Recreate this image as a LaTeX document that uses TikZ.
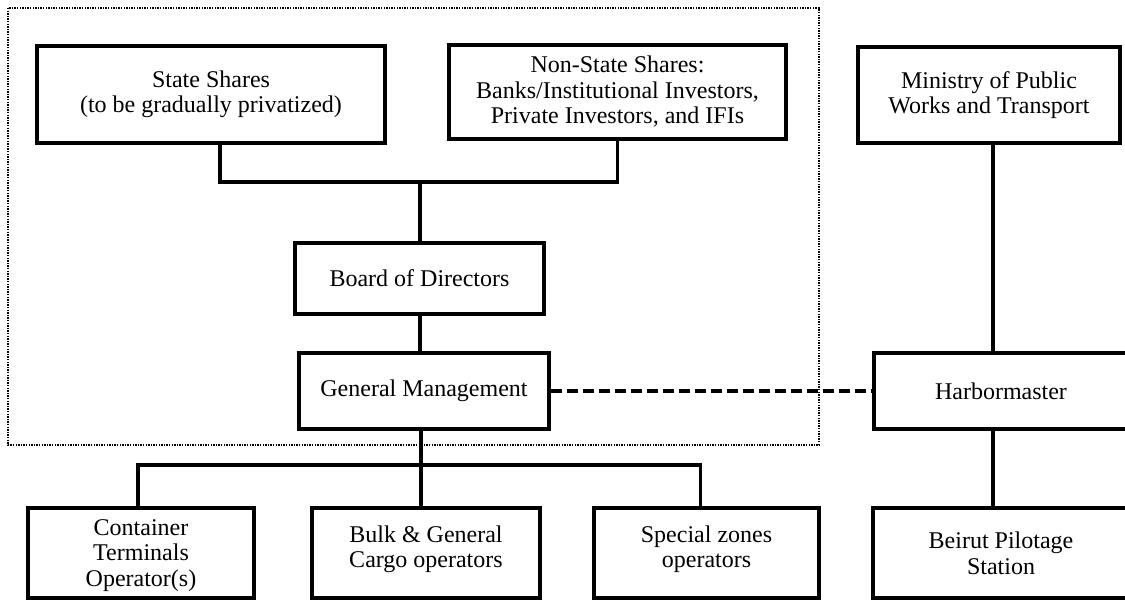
\documentclass[tikz,border=0pt]{standalone}
\usepackage{fontspec}
\setmainfont{Liberation Serif}
\usetikzlibrary{positioning,calc}
\tikzset{box/.style={
            draw,
            line width=3.3pt,
            fill=white,
            inner sep=0pt,
            align=center,
            font=\fontsize{24}{25.5}\selectfont
        },
        topbox/.style={
            box,
            text depth=13pt
        },
        link/.style={
            line width=3.3pt
        },
        weaklink/.style={
            line width=3.3pt,
            dash pattern=on 11pt off 5pt
        },
        frame/.style={
            line width=1.4pt,
            dash pattern=on 1.4pt off 1.2pt
        }
    }

\begin{document}
\begin{tikzpicture}[x=1pt,y=-1pt]
        \clip (0,0) rectangle (1125,600);

        % the port company
        \draw[frame] (8,8) rectangle (819,445);

        \node[box, minimum width=348, minimum height=97] at (211,94.5) (state)
            {State Shares\\(to be gradually privatized)};
        \node[box, minimum width=337, minimum height=94] at (617.5,92) (nonstate)
            {Non-State Shares:\\Banks/Institutional Investors,\\Private Investors, and IFIs};
        \node[box, minimum width=262, minimum height=96] at (989,95) (ministry)
            {Ministry of Public\\Works and Transport};

        \node[box, minimum width=249, minimum height=71] at (419.5,278.5) (board) {Board of Directors};
        \node[box, minimum width=250, minimum height=76] at (424,391) (genmgmt) {General Management};
        \node[box, minimum width=254, minimum height=76] at (1001,391) (harbor) {Harbormaster};

        \node[box, text depth=-20pt, minimum width=226, minimum height=90] at (141,553) (container)
            {Container\\Terminals\\Operator(s)};
        \node[topbox, minimum width=228, minimum height=90] at (426,553) (bulk)
            {Bulk \& General\\Cargo operators};
        \node[topbox, minimum width=225, minimum height=90] at (706.5,553) (special)
            {Special zones\\operators};
        \node[box, text depth=-5pt, minimum width=256, minimum height=90] at (1001,553) (pilot)
            {Beirut Pilotage\\Station};

        % shareholders down to the board
        \coordinate (sharebus) at (420,182);
        \draw[link] ([xshift=9pt]state.south) |- (sharebus) -| (nonstate.south);
        \draw[link] (sharebus) -- (board.north -| sharebus);
        \draw[link] (board.south -| sharebus) -- (genmgmt.north -| sharebus);

        % operators
        \coordinate (opsbus) at (421,465);
        \draw[link] (genmgmt.south -| opsbus) -- (bulk.north -| opsbus);
        \draw[link] ([xshift=-3pt]container.north) |- (opsbus) -| ([xshift=-6pt]special.north);

        % ministry side
        \draw[link] (ministry.south -| 993,0) -- (harbor.north -| 993,0);
        \draw[link] (harbor.south -| 993,0) -- (pilot.north -| 993,0);

        \draw[weaklink] (genmgmt.east) -- (harbor.west);

    \end{tikzpicture}
\end{document}
